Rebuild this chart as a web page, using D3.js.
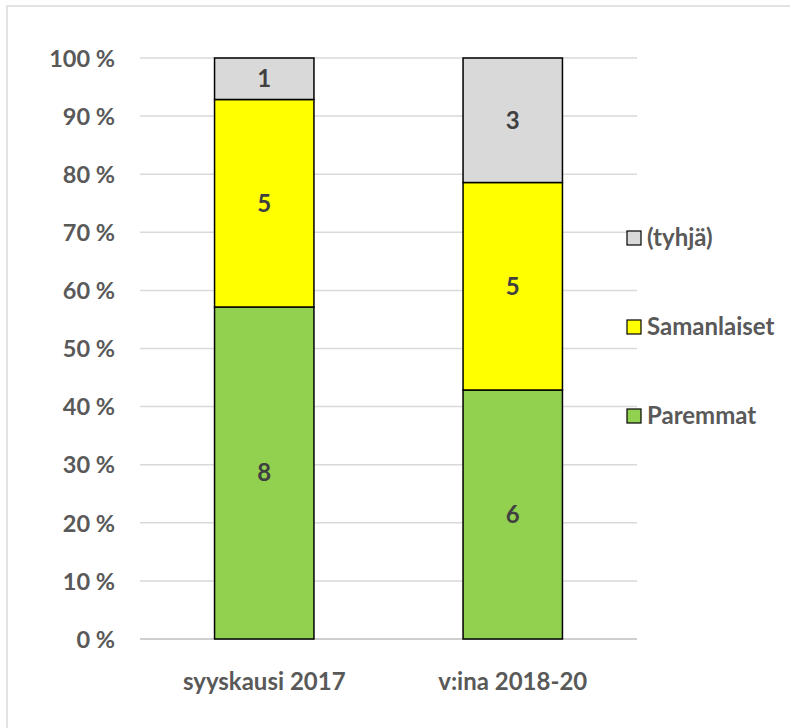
<!DOCTYPE html>
<html lang="fi">
<head>
    <meta charset="UTF-8">
    <title>stacked-100</title>
    <style>
        body { margin: 0; background: #fff; }
        text { font-family: Lato, "Open Sans", sans-serif; font-weight: bold; }
    </style>
    <script src="https://d3js.org/d3.v7.min.js"></script>
</head>
<body>
<script>

    // data
    let categories = ["syyskausi 2017", "v:ina 2018-20"];
    let seriesNames = ["Paremmat", "Samanlaiset", "(tyhjä)"];
    let paremmat = [8, 6];
    let samanlaiset = [5, 5];
    let tyhja = [1, 3];
    let yTicks = [0, 0.1, 0.2, 0.3, 0.4, 0.5, 0.6, 0.7, 0.8, 0.9, 1];
    let colors = ["#92d050", "#ffff00", "#d9d9d9"];

    let width = 790, height = 728;
    let plot = {left: 140, right: 637, top: 58, bottom: 639};

    let svg = d3.select("body").append("svg")
        .attr("width", width).attr("height", height);

    // chart border
    svg.append("rect")
        .attr("x", 7).attr("y", 6)
        .attr("width", width + 10).attr("height", height + 10)
        .attr("fill", "white")
        .attr("stroke", "#d9d9d9").attr("stroke-width", 1.5);

    let rows = categories.map((c, i) => ({
        cat: c, "Paremmat": paremmat[i], "Samanlaiset": samanlaiset[i], "(tyhjä)": tyhja[i]
    }));

    let stack = d3.stack().keys(seriesNames).offset(d3.stackOffsetExpand);
    let layers = stack(rows);

    let x = d3.scaleBand().domain(categories)
        .range([plot.left, plot.right])
        .paddingInner(0.6).paddingOuter(0.3);
    let y = d3.scaleLinear().domain([0, 1]).range([plot.bottom, plot.top]);

    // gridlines
    svg.append("g").selectAll("line")
        .data(yTicks)
        .enter().append("line")
        .attr("x1", plot.left).attr("x2", plot.right)
        .attr("y1", d => y(d)).attr("y2", d => y(d))
        .attr("stroke", d => d === 0 ? "#bfbfbf" : "#d9d9d9")
        .attr("stroke-width", 1.5);

    // y axis labels
    let yAxis = d3.axisLeft(y).tickValues(yTicks)
        .tickFormat(d => Math.round(d * 100) + " %")
        .tickSize(0).tickPadding(0);
    let yg = svg.append("g").attr("transform", "translate(" + 115 + ",0)").call(yAxis);
    yg.select(".domain").remove();
    yg.selectAll("text")
        .attr("fill", "#595959").style("font-size", "23.5px").attr("dy", "0.35em");

    // bars
    let counts = [paremmat, samanlaiset, tyhja];
    layers.forEach((layer, li) => {
        let g = svg.append("g");
        g.selectAll("rect")
            .data(layer)
            .enter().append("rect")
            .attr("x", d => x(d.data.cat))
            .attr("width", x.bandwidth())
            .attr("y", d => y(d[1]))
            .attr("height", d => y(d[0]) - y(d[1]))
            .attr("fill", colors[li])
            .attr("stroke", "#000").attr("stroke-width", 1.5);
        g.selectAll("text")
            .data(layer)
            .enter().append("text")
            .attr("x", d => x(d.data.cat) + x.bandwidth() / 2)
            .attr("y", d => y((d[0] + d[1]) / 2))
            .attr("dy", "0.35em")
            .attr("text-anchor", "middle")
            .attr("fill", "#404040")
            .style("font-size", "24px")
            .text((d, i) => counts[li][i]);
    });

    // x axis labels
    let xAxis = d3.axisBottom(x).tickSize(0).tickPadding(0);
    let xg = svg.append("g").attr("transform", "translate(0," + 682 + ")").call(xAxis);
    xg.select(".domain").remove();
    xg.selectAll("text")
        .attr("fill", "#595959").style("font-size", "24px").attr("dy", "0.35em");

    // legend
    let legendY = [416, 327, 238];
    let legend = svg.append("g").selectAll("g")
        .data(seriesNames)
        .enter().append("g")
        .attr("transform", (d, i) => "translate(627," + legendY[i] + ")");
    legend.append("rect")
        .attr("x", 0).attr("y", -7).attr("width", 14).attr("height", 14)
        .attr("fill", (d, i) => colors[i])
        .attr("stroke", "#000").attr("stroke-width", 1.2);
    legend.append("text")
        .attr("x", 20).attr("dy", "0.35em")
        .attr("fill", "#595959").style("font-size", "24px")
        .text(d => d);

</script>
</body>
</html>
